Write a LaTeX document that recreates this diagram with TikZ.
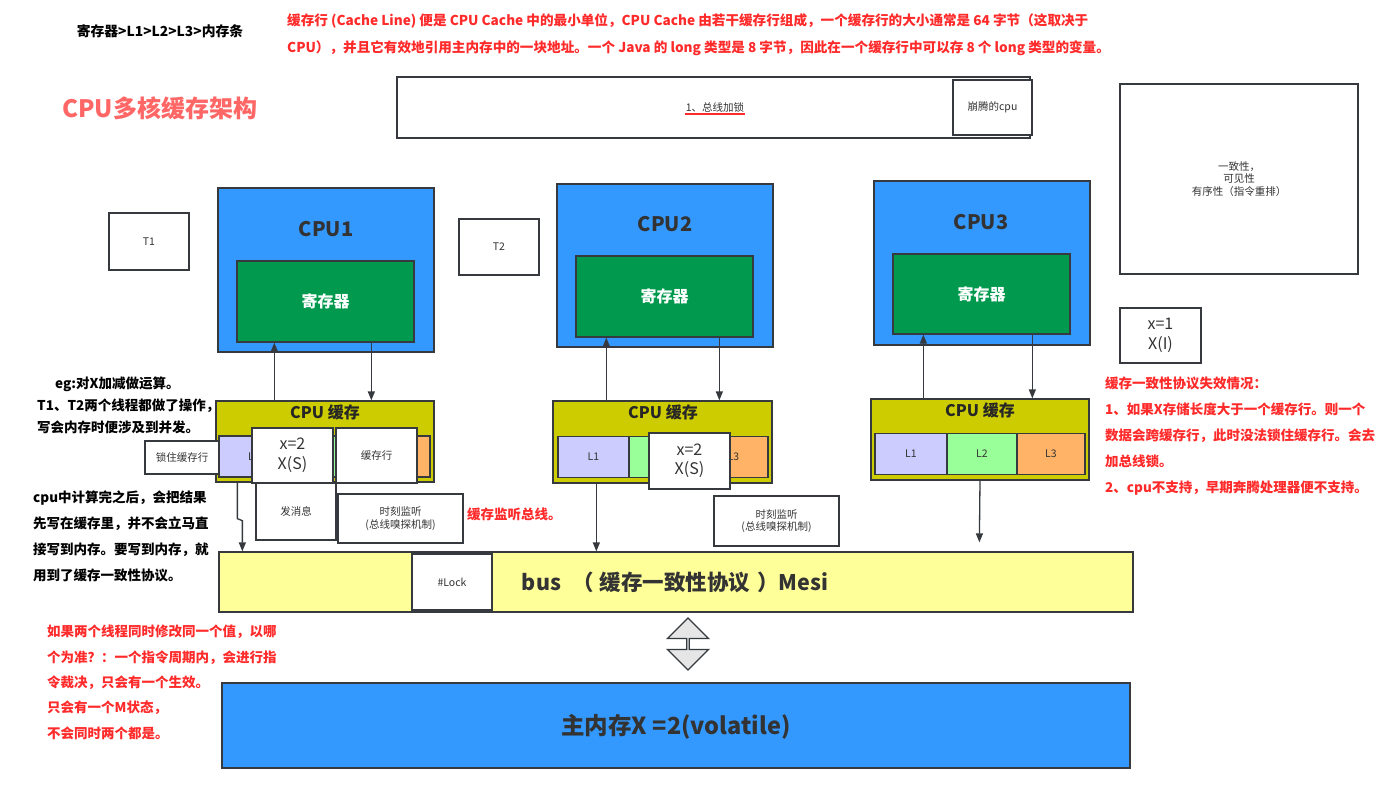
\documentclass[tikz,border=0pt]{standalone}
\usepackage{fontspec}
\setmainfont{Noto Sans CJK SC}
\usetikzlibrary{arrows.meta,shapes.arrows}
\definecolor{linec}{HTML}{36393D}
\definecolor{cpublue}{HTML}{3399FF}
\definecolor{reggreen}{HTML}{00994D}
\definecolor{cacheolive}{HTML}{CCCC00}
\definecolor{lone}{HTML}{CCCCFF}
\definecolor{ltwo}{HTML}{99FF99}
\definecolor{lthree}{HTML}{FFB366}
\definecolor{busyellow}{HTML}{FFFF99}
\definecolor{syncgray}{HTML}{E6E6E6}
\definecolor{notered}{HTML}{FF2A2A}
\definecolor{titlered}{HTML}{FF6666}
\definecolor{txtgray}{HTML}{333333}

\begin{document}
\begin{tikzpicture}[
                x=1pt, y=-1pt,
                >={Triangle[length=9pt,width=7pt]},
                box/.style={draw=linec, line width=1.3pt, fill=white, inner sep=0pt, align=center,
                    text=txtgray, font=\fontsize{10.5}{12.5}\selectfont},
                cpubox/.style={box, fill=cpublue},
                regbox/.style={box, fill=reggreen, text=white, font=\fontsize{16}{19}\selectfont\bfseries},
                cachebox/.style={box, fill=cacheolive},
                lbox/.style={box, minimum height=41pt},
                statebox/.style={box, font=\fontsize{16}{19.5}\selectfont},
                conn/.style={->, draw=linec, line width=1.3pt},
                cputitle/.style={text=txtgray, inner sep=0pt, font=\fontsize{20}{24}\selectfont\bfseries},
                cachetitle/.style={text=black!85, inner sep=0pt, font=\fontsize{16}{19}\selectfont\bfseries},
                note/.style={align=left, inner sep=0pt, anchor=north west, font=\fontsize{13.5}{25.5}\selectfont\bfseries},
                rednote/.style={note, text=notered}
            ]
            % 画布
            \useasboundingbox (0,0) rectangle (1397,800);
            \fill[white] (0,0) rectangle (1397,800);

            % 顶部说明
            \node[inner sep=0pt, font=\fontsize{13.8}{16}\selectfont\bfseries] (order) at (160,31) {寄存器>L1>L2>L3>内存条};
            \node[rednote, font=\fontsize{13.6}{27}\selectfont\bfseries] (cacheline) at (287,13)
                {缓存行 (Cache Line) 便是 CPU Cache 中的最小单位，CPU Cache 由若干缓存行组成，一个缓存行的大小通常是 64 字节（这取决于\\
                 CPU），并且它有效地引用主内存中的一块地址。一个 Java 的 long 类型是 8 字节，因此在一个缓存行中可以存 8 个 long 类型的变量。};
            \node[anchor=west, inner sep=0pt, text=titlered, font=\fontsize{24}{28}\selectfont\bfseries] (title) at (62,108) {CPU多核缓存架构};

            % 总线加锁
            \node[box, minimum width=633pt, minimum height=61pt] (buslock) at (713.5,107.5) {};
            \node[inner sep=1pt, text=txtgray, font=\fontsize{10.5}{12.5}\selectfont] (buslocktext) at (715,107) {1、总线加锁};
            \draw[notered, line width=1.5pt] ([yshift=-1pt]buslocktext.south west) -- ([yshift=-1pt]buslocktext.south east);
            \node[box, minimum width=79pt, minimum height=55pt] (pentium) at (992.5,107.5) {崩腾的cpu};

            % 三大特性
            \node[box, minimum width=238pt, minimum height=190pt] (props) at (1239,179) {一致性，\\可见性\\有序性（指令重排）};

            % 线程
            \node[box, minimum width=80pt, minimum height=57pt] (t1) at (149,241.5) {T1};
            \node[box, minimum width=80pt, minimum height=56pt] (t2) at (499,247) {T2};

            % CPU1
            \node[cpubox, minimum width=216pt, minimum height=164pt] (cpu1) at (326,270) {};
            \node[cputitle] (cpu1title) at (326,229) {CPU1};
            \node[regbox, minimum width=177pt, minimum height=81pt] (reg1) at (325.5,301.5) {寄存器};
            \node[cachebox, minimum width=218pt, minimum height=81pt] (cache1) at (325,441.5) {};
            \node[cachetitle] (cache1title) at (325,412) {CPU 缓存};
            \node[lbox, fill=lone, minimum width=70pt] (l11) at (254,456.5) {L1};
            \node[lbox, fill=ltwo, minimum width=71pt] (l12) at (324.5,456.5) {};
            \node[lbox, fill=lthree, minimum width=70pt] (l13) at (395,456.5) {};
            \node[box, minimum width=74pt, minimum height=33pt] (lockline) at (182,457.5) {锁住缓存行};
            \node[statebox, minimum width=81pt, minimum height=55pt] (state1) at (292.5,455.5) {x=2\\X(S)};
            \node[box, minimum width=81pt, minimum height=55pt] (line1) at (376.5,455.5) {缓存行};
            \node[box, minimum width=80pt, minimum height=57pt] (msg) at (296,511.5) {发消息};
            \node[box, minimum width=125pt, minimum height=49pt] (snoop1) at (400.5,518.5) {时刻监听\\(总线嗅探机制)};
            \node[anchor=west, inner sep=0pt, text=notered, font=\fontsize{13.5}{16}\selectfont\bfseries] (snoopnote) at (467,514) {缓存监听总线。};

            % CPU2
            \node[cpubox, minimum width=216pt, minimum height=163pt] (cpu2) at (665,265.5) {};
            \node[cputitle] (cpu2title) at (665,224) {CPU2};
            \node[regbox, minimum width=177pt, minimum height=81pt] (reg2) at (664.5,296.5) {寄存器};
            \node[cachebox, minimum width=219pt, minimum height=82pt] (cache2) at (662.5,442) {};
            \node[cachetitle] (cache2title) at (663,412) {CPU 缓存};
            \node[lbox, fill=lone, minimum width=71pt] (l21) at (593.5,457) {L1};
            \node[lbox, fill=ltwo, minimum width=70pt] (l22) at (664,457) {};
            \node[lbox, fill=lthree, minimum width=69pt] (l23) at (733.5,457) {L3};
            \node[statebox, minimum width=81pt, minimum height=56pt] (state2) at (689.5,461) {x=2\\X(S)};
            \node[box, minimum width=125pt, minimum height=50pt] (snoop2) at (776.5,521) {时刻监听\\(总线嗅探机制)};

            % CPU3
            \node[cpubox, minimum width=216pt, minimum height=164pt] (cpu3) at (982,263) {};
            \node[cputitle] (cpu3title) at (981,222) {CPU3};
            \node[regbox, minimum width=177pt, minimum height=80pt] (reg3) at (981.5,294) {寄存器};
            \node[cachebox, minimum width=218pt, minimum height=81pt] (cache3) at (980,439.5) {};
            \node[cachetitle] (cache3title) at (980,410) {CPU 缓存};
            \node[lbox, fill=lone, minimum width=72pt] (l31) at (911,454) {L1};
            \node[lbox, fill=ltwo, minimum width=70pt] (l32) at (982,454) {L2};
            \node[lbox, fill=lthree, minimum width=68pt] (l33) at (1051,454) {L3};
            \node[statebox, minimum width=81pt, minimum height=55pt] (state3) at (1160.5,335.5) {x=1\\X(I)};

            % 总线与主内存
            \node[box, fill=busyellow, minimum width=914pt, minimum height=60pt] (bus) at (676,582) {};
            \node[box, minimum width=80pt, minimum height=56pt] (lock) at (452,582) {\#Lock};
            \node[inner sep=0pt, text=txtgray, font=\fontsize{21.5}{25}\selectfont\bfseries] (bustitle) at (675,582)
                {bus\hspace{6pt} （\hspace{6pt}缓存一致性协议\hspace{7pt}）Mesi};
            \node[double arrow, rotate=90, draw=linec, fill=syncgray, line width=1.3pt, inner sep=0pt,
                minimum height=52pt, minimum width=41pt, double arrow head extend=10pt] (sync) at (688,644) {};
            \node[box, fill=cpublue, minimum width=908pt, minimum height=85pt] (mem) at (676,725.5) {};
            \node[inner sep=0pt, text=txtgray, font=\fontsize{23.5}{27}\selectfont\bfseries] (memtitle) at (676,727) {主内存X =2(volatile)};

            % 读写连线
            \draw[conn] ([xshift=59pt]cache1.north west) -- ([xshift=38pt]reg1.south west);
            \draw[conn] ([xshift=135pt]reg1.south west) -- ([xshift=156pt]cache1.north west);
            \draw[conn] ([xshift=54pt]cache2.north west) -- ([xshift=31pt]reg2.south west);
            \draw[conn] ([xshift=144pt]reg2.south west) -- ([xshift=167pt]cache2.north west);
            \draw[conn] ([xshift=53pt]cache3.north west) -- ([xshift=31pt]reg3.south west);
            \draw[conn] ([xshift=140pt]reg3.south west) -- ([xshift=162pt]cache3.north west);
            \draw[conn] ([xshift=22pt]cache1.south west) -- ++(0,36) -- ++(5,2) -- ([xshift=24pt]bus.north west);
            \draw[conn] ([xshift=44pt]cache2.south west) -- ([xshift=378pt]bus.north west);
            \draw[conn] (cache3.south) -- ([xshift=761pt,yshift=9pt]bus.north west);

            % 左侧说明
            \node[note, font=\fontsize{13.5}{22}\selectfont\bfseries] (eg) at (37,377)
                {\hspace*{18pt}eg:对X加减做运算。\\T1、T2两个线程都做了操作，\\写会内存时便涉及到并发。};
            \node[note, font=\fontsize{13.5}{25.7}\selectfont\bfseries] (writeback) at (33,491)
                {cpu中计算完之后，会把结果\\先写在缓存里，并不会立马直\\接写到内存。要写到内存，就\\用到了缓存一致性协议。};
            \node[rednote, font=\fontsize{13.5}{25.3}\selectfont\bfseries] (arbit) at (47,625)
                {如果两个线程同时修改同一个值，以哪\\个为准？：一个指令周期内，会进行指\\令裁决，只会有一个生效。\\只会有一个M状态，\\不会同时两个都是。};

            % 右侧说明
            \node[rednote, font=\fontsize{13.5}{25.8}\selectfont\bfseries] (fail) at (1105,377)
                {缓存一致性协议失效情况：\\1、如果X存储长度大于一个缓存行。则一个\\数据会跨缓存行，此时没法锁住缓存行。会去\\加总线锁。\\2、cpu不支持，早期奔腾处理器便不支持。};
        \end{tikzpicture}
\end{document}
